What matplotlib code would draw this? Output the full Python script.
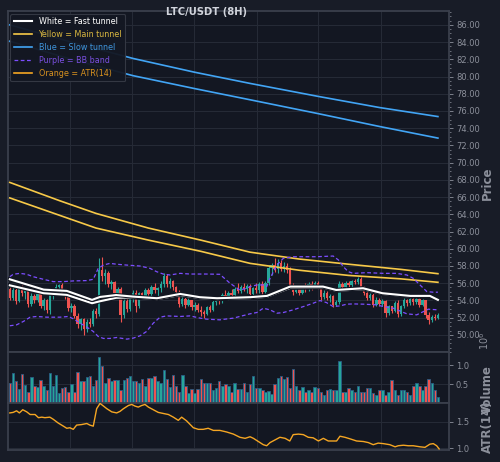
import numpy as np
import matplotlib
matplotlib.use("Agg")
import matplotlib.pyplot as plt
from matplotlib.ticker import MultipleLocator, FixedLocator, FormatStrFormatter
import matplotlib.patheffects as pe

# ================= DATA =================
opens = [55.3,54.3,55.2,53.9,55.4,54.9,55.2,53.6,54.5,54.0,
         54.7,53.4,54.0,52.9,54.6,55.0,55.6,55.8,54.8,54.5,
         53.1,53.4,52.2,51.2,51.8,50.7,51.5,51.2,52.8,52.4,
         57.5,56.8,57.2,55.9,56.1,54.9,55.3,52.3,53.9,53.0,
         54.3,54.9,53.3,54.8,54.5,55.2,54.7,55.5,55.2,55.4,
         55.9,56.8,55.9,56.2,55.5,55.0,53.6,54.2,53.5,54.0,
         53.2,53.5,52.9,52.6,52.4,53.2,52.9,53.8,54.2,53.9,
         54.6,54.4,54.9,54.6,55.3,55.1,55.6,55.3,55.7,54.7,
         55.4,55.2,55.9,55.0,56.0,57.8,58.1,57.6,58.3,57.7,
         58.0,57.5,55.7,55.0,55.4,54.9,55.5,55.3,55.9,55.6,
         56.0,55.5,54.4,54.9,54.3,54.5,53.5,53.8,55.9,55.6,
         56.0,55.8,56.2,56.1,56.5,55.5,54.9,54.3,54.6,53.5,
         54.1,53.6,53.9,52.5,53.3,52.8,53.7,52.4,53.3,54.0,
         53.7,54.2,53.8,54.2,53.5,54.0,52.3,51.7,52.1,51.9]
highs = [55.6,55.5,55.4,55.7,55.8,55.5,55.4,54.8,54.7,55.0,
         55.0,54.3,54.2,54.9,55.3,55.9,55.9,56.0,55.1,54.7,
         53.7,53.6,52.5,52.0,51.9,51.8,51.9,53.0,53.1,58.9,
         59.0,57.6,57.4,56.4,56.3,55.6,55.5,54.5,54.4,54.6,
         55.2,55.2,55.0,55.0,55.4,55.4,55.8,56.0,55.6,56.3,
         57.2,57.1,56.6,56.4,55.7,55.2,54.5,54.4,54.3,54.1,
         53.8,53.7,53.3,52.9,53.4,53.5,54.0,54.4,54.5,54.8,
         55.2,55.1,55.3,55.6,56.0,55.8,56.0,55.9,55.9,55.6,
         56.0,56.1,56.2,56.3,58.1,58.4,58.9,58.8,58.7,58.5,
         58.3,57.9,56.0,55.7,55.6,55.8,56.0,56.1,56.2,56.3,
         56.2,55.7,55.2,55.1,54.7,54.6,54.0,56.2,56.1,56.2,
         56.3,56.4,56.5,56.7,56.7,55.7,55.2,54.9,54.8,54.4,
         54.3,54.2,54.0,53.5,53.4,53.9,54.0,53.5,54.3,54.2,
         54.5,54.4,54.4,54.3,54.2,54.1,52.6,52.3,52.4,52.5]
lows = [54.0,54.0,53.6,53.8,54.5,54.2,53.2,53.4,53.7,53.8,
        53.1,52.9,52.5,52.4,54.2,54.6,55.0,54.6,54.2,52.8,
        52.6,51.9,50.8,50.6,50.0,50.3,50.9,51.0,51.9,52.2,
        56.3,55.9,55.6,55.3,54.6,54.5,51.5,52.0,52.6,52.8,
        53.8,52.7,53.1,54.2,54.3,54.4,54.5,54.9,54.3,55.0,
        55.5,55.6,55.4,55.2,54.6,53.2,53.3,53.1,53.3,52.9,
        52.8,52.6,52.2,52.0,52.3,52.7,52.8,53.5,53.6,53.7,
        54.2,54.1,54.4,54.4,54.9,54.8,55.1,54.9,54.4,54.5,
        54.9,54.8,54.6,54.8,55.8,57.0,57.3,57.2,57.4,57.3,
        57.2,55.4,54.6,54.8,54.6,54.7,55.0,55.1,55.2,55.4,
        55.3,54.1,54.2,54.0,53.8,53.2,53.3,53.6,55.4,55.4,
        55.6,55.6,55.9,55.9,55.3,54.6,54.1,54.1,53.2,53.3,
        53.3,53.3,52.1,52.3,52.5,52.6,52.1,52.2,53.1,53.3,
        53.5,53.5,53.6,53.2,53.4,52.0,51.3,51.5,51.7,51.8]
closes = [54.3,55.2,53.9,55.4,54.9,55.2,53.6,54.5,54.0,54.7,
          53.4,54.0,52.9,54.6,55.0,55.6,55.8,54.8,54.5,53.1,
          53.4,52.2,51.2,51.8,50.7,51.5,51.2,52.8,52.4,57.5,
          56.8,57.2,55.9,56.1,54.9,55.3,52.3,53.9,53.0,54.3,
          54.9,53.3,54.8,54.5,55.2,54.7,55.5,55.2,55.4,55.9,
          56.8,55.9,56.2,55.5,55.0,53.6,54.2,53.5,54.0,53.2,
          53.5,52.9,52.6,52.4,53.2,52.9,53.8,54.2,53.9,54.6,
          54.4,54.9,54.6,55.3,55.1,55.6,55.3,55.7,54.7,55.4,
          55.2,55.9,55.0,56.0,57.8,58.1,57.6,58.3,57.7,58.0,
          57.5,55.7,55.0,55.4,54.9,55.5,55.3,55.9,55.6,56.0,
          55.5,54.4,54.9,54.3,54.5,53.5,53.8,55.9,55.6,56.0,
          55.8,56.2,56.1,56.5,55.5,54.9,54.3,54.6,53.5,54.1,
          53.6,53.9,52.5,53.3,52.8,53.7,52.4,53.3,54.0,53.7,
          54.2,53.8,54.2,53.5,54.0,52.3,51.7,52.1,51.9,52.3]

# volume in millions
volume_m = [0.54,0.80,0.59,0.37,0.77,0.48,0.30,0.70,0.46,0.41,
            0.60,0.44,0.35,0.80,0.45,0.73,0.26,0.40,0.43,0.28,
            0.50,0.30,0.82,0.59,0.59,0.68,0.72,0.44,0.62,1.22,
            0.97,0.52,0.66,0.58,0.60,0.61,0.35,0.61,0.67,0.72,
            0.59,0.57,0.54,0.63,0.46,0.65,0.67,0.72,0.59,0.53,
            0.87,0.63,0.41,0.74,0.46,0.30,0.74,0.46,0.26,0.37,
            0.26,0.37,0.63,0.53,0.53,0.54,0.33,0.39,0.57,0.44,
            0.50,0.46,0.28,0.54,0.37,0.37,0.54,0.28,0.50,0.72,
            0.40,0.40,0.35,0.28,0.31,0.24,0.50,0.65,0.72,0.63,
            0.70,0.39,0.89,0.46,0.35,0.41,0.28,0.33,0.28,0.41,
            0.39,0.30,0.22,0.33,0.37,0.33,0.35,1.12,0.28,0.30,
            0.39,0.35,0.28,0.44,0.28,0.28,0.39,0.39,0.26,0.20,
            0.33,0.33,0.20,0.28,0.60,0.33,0.20,0.33,0.33,0.28,
            0.20,0.46,0.54,0.46,0.33,0.46,0.63,0.54,0.33,0.16]

# slow tunnel (blue)
slow_x = [0, 20, 40, 60, 78, 100, 120, 139]
slow_hi = [86.0, 84.0, 82.1, 80.5, 79.2, 77.7, 76.4, 75.35]
slow_lo = [84.1, 82.0, 80.1, 78.6, 77.3, 75.7, 74.2, 72.85]

# main tunnel (yellow)
main_x = [0, 16, 28, 45, 62, 78, 94, 110, 127, 139]
main_hi = [67.7, 65.6, 64.1, 62.4, 61.0, 59.6, 58.8, 58.2, 57.6, 57.1]
main_lo = [65.9, 63.9, 62.4, 61.0, 59.7, 58.3, 57.5, 56.9, 56.5, 56.1]

# fast tunnel (white)
fast_x = [0, 11, 18.5, 26.7, 29.3, 34.5, 40, 47.8, 55.3, 61.7, 67.3, 78,
          83.5, 91, 101.7, 106, 114.7, 121, 130, 136.4, 139]
fast_hi = [56.45, 55.25, 55.1, 54.06, 54.4, 54.62, 54.44, 54.25, 54.75, 54.37, 54.25, 54.37,
           54.52, 55.6, 55.6, 55.21, 55.41, 54.83, 54.52, 54.52, 54.06]
fast_lo = [55.75, 54.83, 54.64, 53.67, 53.9, 54.3, 54.35, 54.15, 54.62, 54.27, 54.15, 54.27,
           54.42, 55.45, 55.5, 55.12, 55.3, 54.75, 54.45, 54.45, 53.98]

# Bollinger band (purple dashed)
bbu_x = [0, 1.1, 3.3, 5.5, 7.6, 10.9, 14.1, 17.4, 20.6, 25, 27.1, 28.7, 30.4, 32.5, 34.7,
         38, 42.3, 45.5, 47.7, 49.8, 52, 55.3, 58.5, 63.9, 68.2, 71.5, 74.7, 76.9, 78,
         80.2, 82.3, 83.4, 84.5, 86.7, 88.8, 92, 99.6, 105, 106.7, 108.3, 109.9, 111.5,
         115.9, 121.3, 125.6, 128.9, 131, 133.2, 135.4, 137.5, 139]
bbu = [56.75, 57.03, 57.14, 57.03, 56.75, 56.45, 56.18, 56.18, 56.26, 56.30, 56.45, 57.72,
       58.1, 58.3, 58.2, 58.1, 57.99, 57.72, 57.33, 57.06, 56.95, 57.14, 57.06, 57.06, 57.03,
       55.99, 55.2, 55.41, 55.6, 55.79, 55.79, 55.6, 56.56, 58.1, 58.88, 59.07, 59.07, 59.15,
       58.69, 57.91, 57.33, 57.14, 57.22, 57.14, 57.14, 56.95, 56.56, 55.79, 55.02, 54.95,
       54.95]
bbl_x = [0, 2.2, 4.4, 6.6, 8.7, 12, 16.3, 19, 20.6, 22.8, 25, 27.1, 28.7, 30.4, 32.5, 34.7,
         38, 40.1, 42.3, 44.4, 46.6, 48.8, 50.9, 55.3, 58.5, 61.8, 63.9, 68.2, 72.6, 78,
         80.2, 82.3, 84.5, 86.7, 88.8, 92, 95.3, 98.5, 100.7, 102.8, 105, 107.2, 109.4,
         111.5, 114.8, 119.1, 121.3, 124.5, 128.9, 132.1, 134.3, 135.9, 139]
bbl = [51.05, 51.16, 51.55, 52.05, 52.13, 52.05, 52.05, 52.13, 51.86, 51.36, 50.90, 50.39,
       49.81, 49.58, 49.58, 49.69, 49.5, 49.62, 49.89, 50.39, 51.36, 52.05, 52.2, 52.13,
       52.2, 51.94, 51.82, 51.74, 51.94, 52.44, 52.59, 53.09, 52.9, 52.51, 52.59, 52.9,
       53.28, 53.67, 53.98, 53.75, 53.28, 53.36, 53.56, 53.59, 53.56, 53.48, 53.28, 53.09,
       52.44, 52.32, 52.7, 52.98, 52.9]

# ATR(14)
atr_x = [0, 1.1, 2.2, 3.1, 4.2, 5.5, 6.6, 8.2, 9.3, 10.4, 11.4, 13, 14.1, 15.7, 17.4, 18.5,
         19.5, 20.6, 21.7, 23.3, 25, 26, 27.1, 28.2, 29.3, 30.4, 31.5, 33.1, 34.7, 35.8,
         36.9, 38.5, 39.6, 40.6, 41.7, 42.8, 43.9, 45, 46.6, 48.2, 49.8, 51.5, 53.1, 54.7,
         55.8, 57.4, 59.6, 61.2, 62.8, 64.4, 66.1, 68.2, 70.4, 72.6, 74.7, 76.4, 78, 79.1,
         80.7, 82.3, 83.4, 84.5, 86.1, 87.7, 89.4, 90.9, 92, 93.7, 95.3, 96.9, 98.5, 100.2,
         101.8, 103.4, 106.1, 107.2, 108.8, 110.5, 112.6, 114.8, 116.4, 118, 119.6, 121.3,
         123.4, 125.1, 126.1, 127.8, 129.4, 131, 133.2, 134.8, 136.4, 137.5, 138.6, 139.4]
atr = [1.67, 1.68, 1.71, 1.67, 1.73, 1.69, 1.64, 1.64, 1.58, 1.59, 1.58, 1.59, 1.55, 1.48,
       1.42, 1.38, 1.39, 1.36, 1.44, 1.45, 1.47, 1.44, 1.42, 1.75, 1.85, 1.80, 1.75, 1.69,
       1.67, 1.70, 1.75, 1.81, 1.83, 1.80, 1.78, 1.81, 1.83, 1.78, 1.73, 1.68, 1.66, 1.64,
       1.59, 1.53, 1.59, 1.52, 1.39, 1.36, 1.36, 1.38, 1.34, 1.34, 1.31, 1.27, 1.21, 1.19,
       1.22, 1.19, 1.13, 1.07, 1.05, 1.11, 1.16, 1.21, 1.19, 1.14, 1.26, 1.27, 1.26, 1.21,
       1.20, 1.14, 1.19, 1.14, 1.14, 1.23, 1.21, 1.18, 1.14, 1.13, 1.11, 1.07, 1.10, 1.09,
       1.07, 1.03, 1.05, 1.06, 1.05, 1.05, 1.03, 1.02, 1.08, 1.09, 1.05, 0.99]

price_ticks = [50, 52, 54, 56, 58, 60, 62, 64, 66, 68, 70, 72, 74, 76, 78, 80, 82, 84, 86]
grid_x = [19.5, 39.7, 59.9, 80.1, 100.2, 120.4]

# ================= STYLE =================
BG = '#131722'
FIG_BG = '#181c27'
GRID = '#262b37'
SPINE = '#3a3f4c'
TXT = '#8c909b'
UP = '#26a69a'
DOWN = '#ef5350'

fig = plt.figure(figsize=(5.0, 4.62), dpi=100, facecolor=FIG_BG)
ax1 = fig.add_axes([0.015, 0.238, 0.883, 0.738])
ax2 = fig.add_axes([0.015, 0.128, 0.883, 0.110], sharex=ax1)
ax3 = fig.add_axes([0.015, 0.026, 0.883, 0.102], sharex=ax1)

o = np.array(opens); h = np.array(highs); l = np.array(lows); c = np.array(closes)
idx = np.arange(len(o))
up = c >= o
cols = np.where(up, UP, DOWN)

# -------- Price panel --------
ax1.vlines(idx, l, h, colors=cols, linewidth=0.8, zorder=2)
ax1.bar(idx, np.abs(c - o), bottom=np.minimum(o, c), width=0.78, color=cols,
        linewidth=0, zorder=3)

ax1.plot(slow_x, slow_hi, color='#42a5f5', lw=1.2, label='Blue = Slow tunnel', zorder=4)
ax1.plot(slow_x, slow_lo, color='#42a5f5', lw=1.2, zorder=4)
ax1.plot(main_x, main_hi, color='#f7c948', lw=1.2, label='Yellow = Main tunnel', zorder=4)
ax1.plot(main_x, main_lo, color='#f7c948', lw=1.2, zorder=4)
ax1.plot(bbu_x, bbu, color='#7c4dff', lw=0.9, ls=(0, (3, 2)), label='Purple = BB band', zorder=4)
ax1.plot(bbl_x, bbl, color='#7c4dff', lw=0.9, ls=(0, (3, 2)), zorder=4)
stroke = [pe.Stroke(linewidth=3.0, foreground=BG), pe.Normal()]
ax1.plot(fast_x, fast_lo, color='white', lw=1.5, zorder=5, path_effects=stroke)
ax1.plot(fast_x, fast_hi, color='white', lw=1.5, label='White = Fast tunnel', zorder=5,
         path_effects=stroke)
ax1.plot([], [], color='#f5a623', lw=1.2, label='Orange = ATR(14)')

ax1.set_ylim(48.0, 87.6)
ax1.yaxis.set_major_locator(FixedLocator(price_ticks))
ax1.yaxis.set_minor_locator(MultipleLocator(0.5))
ax1.yaxis.set_major_formatter(FormatStrFormatter('%.2f'))

handles, labels = ax1.get_legend_handles_labels()
order = [3, 1, 0, 2, 4]
leg = ax1.legend([handles[k] for k in order], [labels[k] for k in order],
                 loc='upper left', fontsize=5.8, facecolor=BG, edgecolor='#363a45',
                 framealpha=0.95, handlelength=2.3, borderaxespad=0.35,
                 labelcolor=['#ffffff', '#d9b740', '#3f95dc', '#7a4fe0', '#d9921f'])
leg.get_frame().set_linewidth(0.8)

# -------- Volume panel --------
ax2.bar(idx, volume_m, width=0.8, color=cols, edgecolor='#2a5e86', linewidth=0.6, zorder=3)
ax2.set_ylim(0, 1.35)
ax2.yaxis.set_major_locator(FixedLocator([0.5, 1.0]))
ax2.yaxis.set_major_formatter(FormatStrFormatter('%.1f'))

# -------- ATR panel --------
ax3.plot(atr_x, atr, color='#f5a623', lw=1.0, zorder=3)
ax3.set_ylim(0.97, 1.86)
ax3.yaxis.set_major_locator(FixedLocator([1.0, 1.5]))
ax3.yaxis.set_major_formatter(FormatStrFormatter('%.1f'))

for ax in (ax1, ax2, ax3):
    ax.set_facecolor(BG)
    ax.yaxis.tick_right()
    ax.tick_params(axis='y', colors=TXT, labelsize=6, length=3, width=0.6, pad=2)
    ax.tick_params(axis='y', which='minor', colors=TXT, length=1.5, width=0.5)
    ax.tick_params(axis='x', length=0, labelbottom=False)
    ax.set_xticks(grid_x)
    ax.grid(True, color=GRID, lw=0.7, zorder=0)
    ax.set_axisbelow(True)
    for s in ax.spines.values():
        s.set_color(SPINE)
        s.set_linewidth(1.3)
ax1.set_xlim(-0.75, 142.6)

# axis labels on the right (placed as in the reference, overlapping for the small panels)
lab = dict(color=TXT, fontsize=8.5, fontweight='bold', rotation=90, ha='center', va='center')
fig.text(0.974, 1 - 183 / 462, 'Price', **lab)
fig.text(0.974, 1 - 390 / 462, 'Volume', **lab)
fig.text(0.974, 1 - 427 / 462, 'ATR(14)', **lab)
fig.text(0.968, 1 - 341 / 462, r'$10^6$', color=TXT, fontsize=7, rotation=90,
         ha='center', va='center')

fig.text(0.414, 0.975, 'LTC/USDT (8H)', color='#d1d4dc', fontsize=7.2, fontweight='bold',
         ha='center', va='center')

fig.savefig('out.png', dpi=100, facecolor=FIG_BG)
